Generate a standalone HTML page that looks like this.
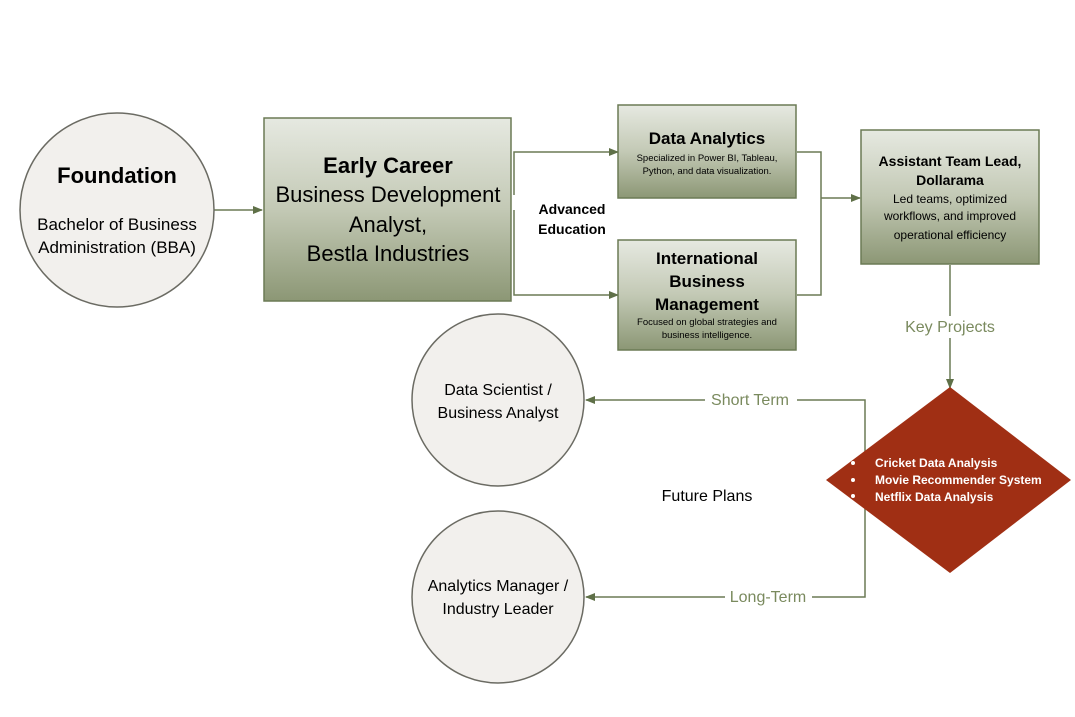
<!DOCTYPE html>
<html><head><style>
body{margin:0;background:#fff;}
svg text{font-family:"Liberation Sans",sans-serif;}
</style></head><body>
<svg width="1075" height="712" xmlns="http://www.w3.org/2000/svg">
<defs>
<linearGradient id="g" x1="0" y1="0" x2="0" y2="1">
<stop offset="0" stop-color="#e6e9e1"/><stop offset="0.5" stop-color="#c3c9b5"/><stop offset="1" stop-color="#8c9775"/>
</linearGradient>
<marker id="a" markerWidth="10" markerHeight="8" refX="9" refY="4" orient="auto" markerUnits="userSpaceOnUse"><path d="M0,0 L10,4 L0,8z" fill="#5f7048"/></marker>
</defs>
<g stroke="#6b7a55" stroke-width="1.5" fill="none">
<line x1="214" y1="210" x2="262" y2="210" marker-end="url(#a)"/>
<polyline points="514,195 514,152 618,152" marker-end="url(#a)"/>
<polyline points="514,210 514,295 618,295" marker-end="url(#a)"/>
<polyline points="797,152 821,152 821,295 797,295"/>
<line x1="821" y1="198" x2="860" y2="198" marker-end="url(#a)"/>
<line x1="950" y1="265" x2="950" y2="316"/>
<line x1="950" y1="338" x2="950" y2="388" marker-end="url(#a)"/>
<polyline points="865,470 865,400 797,400"/>
<line x1="705" y1="400" x2="586" y2="400" marker-end="url(#a)"/>
<polyline points="865,490 865,597 812,597"/>
<line x1="725" y1="597" x2="586" y2="597" marker-end="url(#a)"/>
</g>
<g stroke="#6b6b63" stroke-width="1.5" fill="#f2f0ed">
<circle cx="117" cy="210" r="97"/>
<circle cx="498" cy="400" r="86"/>
<circle cx="498" cy="597" r="86"/>
</g>
<g stroke="#6b7a55" stroke-width="1.5" fill="url(#g)">
<rect x="264" y="118" width="247" height="183"/>
<rect x="618" y="105" width="178" height="93"/>
<rect x="618" y="240" width="178" height="110"/>
<rect x="861" y="130" width="178" height="134"/>
</g>
<polygon points="950,387 1071,480 950,573 826,480" fill="#a02f14"/>
<g text-anchor="middle" fill="#000">
<text x="117" y="183" font-size="22" font-weight="bold">Foundation</text>
<text x="117" y="230" font-size="17">Bachelor of Business</text>
<text x="117" y="253" font-size="17">Administration (BBA)</text>
<text x="388" y="173" font-size="22" font-weight="bold">Early Career</text>
<text x="388" y="202" font-size="22">Business Development</text>
<text x="388" y="232" font-size="22">Analyst,</text>
<text x="388" y="261" font-size="22">Bestla Industries</text>
<text x="707" y="144" font-size="17" font-weight="bold">Data Analytics</text>
<text x="707" y="161" font-size="9.5">Specialized in Power BI, Tableau,</text>
<text x="707" y="174" font-size="9.5">Python, and data visualization.</text>
<text x="707" y="264" font-size="17" font-weight="bold">International</text>
<text x="707" y="287" font-size="17" font-weight="bold">Business</text>
<text x="707" y="310" font-size="17" font-weight="bold">Management</text>
<text x="707" y="325" font-size="9.5">Focused on global strategies and</text>
<text x="707" y="338" font-size="9.5">business intelligence.</text>
<text x="950" y="166" font-size="14" font-weight="bold">Assistant Team Lead,</text>
<text x="950" y="185" font-size="14" font-weight="bold">Dollarama</text>
<text x="950" y="203" font-size="12">Led teams, optimized</text>
<text x="950" y="220" font-size="12">workflows, and improved</text>
<text x="950" y="239" font-size="12">operational efficiency</text>
<text x="572" y="214" font-size="14" font-weight="bold">Advanced</text>
<text x="572" y="234" font-size="14" font-weight="bold">Education</text>
<text x="498" y="395" font-size="16">Data Scientist /</text>
<text x="498" y="418" font-size="16">Business Analyst</text>
<text x="498" y="591" font-size="16">Analytics Manager /</text>
<text x="498" y="614" font-size="16">Industry Leader</text>
<text x="707" y="501" font-size="16">Future Plans</text>
<text x="950" y="332" font-size="16" fill="#7a8a5e">Key Projects</text>
<text x="750" y="405" font-size="16" fill="#7a8a5e">Short Term</text>
<text x="768" y="602" font-size="16" fill="#7a8a5e">Long-Term</text>
</g>
<g fill="#fff" font-size="12" font-weight="bold">
<circle cx="853" cy="463" r="2"/><circle cx="853" cy="480" r="2"/><circle cx="853" cy="496" r="2"/>
<text x="875" y="467">Cricket Data Analysis</text>
<text x="875" y="484">Movie Recommender System</text>
<text x="875" y="501">Netflix Data Analysis</text>
</g>
</svg>
</body></html>
